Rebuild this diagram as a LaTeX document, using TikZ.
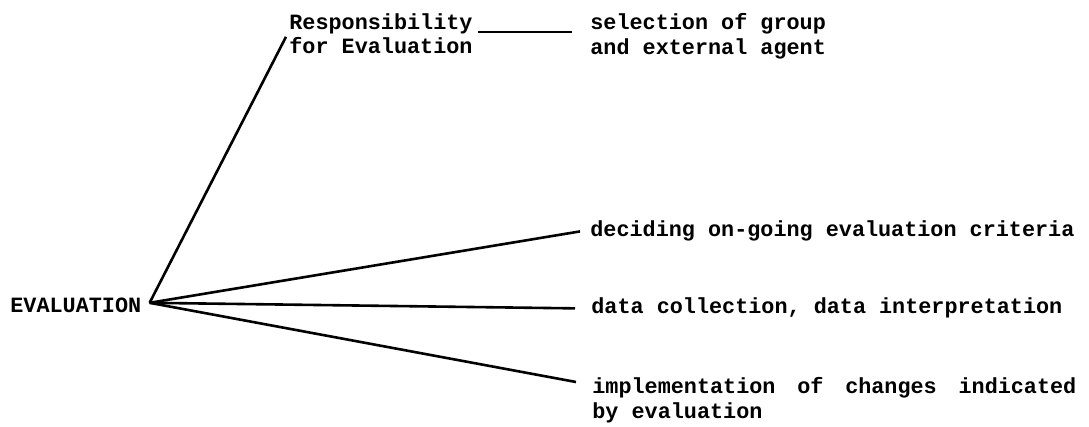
\documentclass[tikz,border=0pt]{standalone}
\usepackage{fontspec}
\setmonofont{Liberation Mono}
\usetikzlibrary{positioning}

\begin{document}
\begin{tikzpicture}
[x=0.5pt, y=-0.5pt,
% The typed style is used for every typewritten label
typed/.style={inner sep=0pt, align=left, font=\ttfamily\bfseries\fontsize{10.9}{12.4}\selectfont},
% The branch style is used for the lines leaving the main topic
branch/.style={line width=1.3pt}
]
\useasboundingbox (0,0) rectangle (1089,427);
% Draw topics
\node [typed, anchor=base west] (evaluation) at (10,313) {EVALUATION};
\node [typed, anchor=north west] (resp) at (289,13) {Responsibility\\for Evaluation};
\node [typed, anchor=north west] (sel) at (590,13) {selection of group\\and external agent};
\node [typed, anchor=base west] (crit) at (590,237) {deciding on-going evaluation criteria};
\node [typed, anchor=base west] (data) at (591,314) {data collection, data interpretation};
\node [typed, anchor=north west] (impl) at (592,377) {\makebox[242pt][l]{implementation\hfill of\hfill changes\hfill indicated}\\by evaluation};
\coordinate (hub) at ([xshift=4pt,yshift=1.5pt]evaluation.east);
% Draw branches
\draw[branch] (hub) -- ([xshift=-1.5pt,yshift=-1.5pt]resp.west);
\draw[branch] (hub) -- ([xshift=-5pt]crit.west);
\draw[branch] (hub) -- ([xshift=-8pt]data.west);
\draw[branch] (hub) -- ([xshift=-8pt,yshift=-2.5pt]impl.north west);
\draw[branch] ([xshift=2.5pt,yshift=1pt]resp.east) -- ([xshift=-9pt,yshift=1pt]sel.west |- resp.east);
\end{tikzpicture}
\end{document}
